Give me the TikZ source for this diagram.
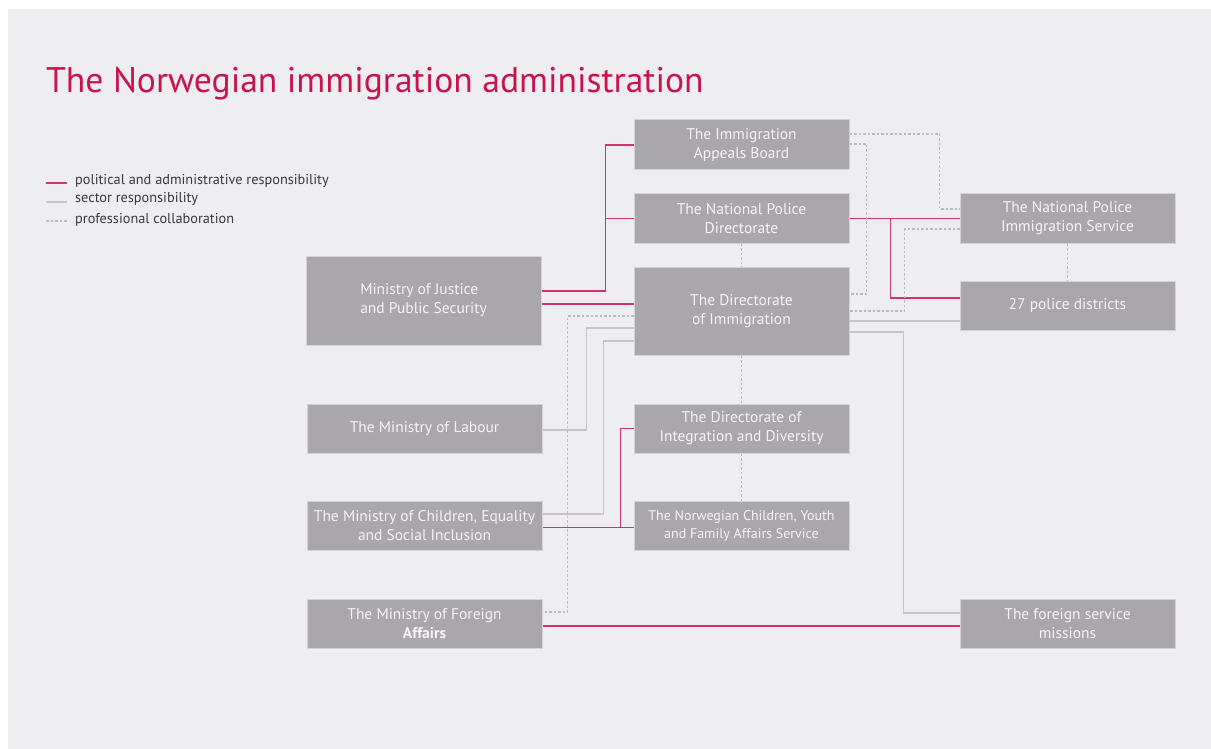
\documentclass[tikz,border=0pt]{standalone}
\usepackage{fontspec}
\setmainfont{PT Sans}
\usetikzlibrary{calc}

\definecolor{panelbg}{HTML}{EEEDF0}
\definecolor{boxfill}{HTML}{A9A6AC}
\definecolor{boxline}{HTML}{D3D2D6}
\definecolor{boxtext}{HTML}{F6F4F8}
\definecolor{crimson}{HTML}{C8134F}
\definecolor{politline}{HTML}{D0346A}
\definecolor{sectorline}{HTML}{C6C5C9}
\definecolor{collabline}{HTML}{BBBABE}
\definecolor{legendtext}{HTML}{3A393C}

\tikzset{
  orgbox/.style={draw=boxline, fill=boxfill, text=boxtext, line width=1pt,
    minimum width=215pt, minimum height=49pt, inner sep=0pt, align=center,
    font=\fontsize{15.5}{19}\selectfont},
  wide/.style={minimum width=235pt},
  polit/.style={draw=politline, line width=1.2pt},
  sector/.style={draw=sectorline, line width=1.3pt},
  collab/.style={draw=collabline, line width=1.1pt, dash pattern=on 2.5pt off 2pt},
  legend/.style={anchor=base west, text=legendtext, inner sep=0pt,
    font=\fontsize{14.3}{16}\selectfont}
}

\begin{document}
\begin{tikzpicture}[x=1pt, y=-1pt]
    \useasboundingbox (0,0) rectangle (1211,749);
    \fill[panelbg] (8,9) rectangle (1211,749);

    \node[anchor=base west, text=crimson, inner sep=0pt, font=\fontsize{35.6}{42}\selectfont]
        (title) at (46,93) {The Norwegian immigration administration};

    \draw[polit] (46,183) -- (67,183);
    \draw[sector] (46,202) -- (67,202);
    \draw[collab] (46,221) -- (67,221);
    \node[legend] (leg1) at (75,185) {political and administrative responsibility};
    \node[legend] (leg2) at (75,203) {sector responsibility};
    \node[legend] (leg3) at (75,223) {professional collaboration};

    \node[orgbox, minimum height=50pt] (iab) at (741.5,145) {The Immigration\\Appeals Board};
    \node[orgbox] (npd) at (741.5,218.5) {The National Police\\Directorate};
    \node[orgbox, minimum height=88pt] (udi) at (741.5,311) {The Directorate\\of Immigration};
    \node[orgbox] (imdi) at (741.5,428.5) {The Directorate of\\Integration and Diversity};
    \node[orgbox, font=\fontsize{14}{18}\selectfont] (bufetat) at (741.5,525.5)
        {The Norwegian Children, Youth\\and Family Affairs Service};
    \node[orgbox] (npis) at (1067.5,218.5) {The National Police\\Immigration Service};
    \node[orgbox] (pd) at (1067.5,305.5) {27 police districts};
    \node[orgbox] (fsm) at (1067.5,623.5) {The foreign service\\missions};
    \node[orgbox, wide, minimum height=89pt, align=left] (jd) at (423.5,300.5)
        {Ministry of Justice\\and Public Security};
    \node[orgbox, wide] (lab) at (424.5,428.5) {The Ministry of Labour};
    \node[orgbox, wide] (bld) at (424.5,525.5) {The Ministry of Children, Equality\\and Social Inclusion};
    \node[orgbox, wide] (ud) at (424.5,623.5) {The Ministry of Foreign\\\textbf{Affairs}};

    \draw[polit] ($(jd.east)+(0,-9.5)$) -| ($(iab.west)+(-28,0)$) -- (iab.west);
    \draw[polit] ($(npd.west)+(-28,0)$) -- (npd.west);
    \draw[polit] ($(jd.east)+(0,3.5)$) -- ($(udi.west)+(0,-7)$);
    \draw[polit] (npd.east) -- (npis.west);
    \draw[polit] ($(npd.east)+(41,0)$) |- ($(pd.west)+(0,-7.5)$);
    \draw[polit] ($(bld.east)+(0,2)$) -- ($(bufetat.west)+(0,2)$);
    \draw[polit] ($(bufetat.west)+(-13,2)$) |- (imdi.west);
    \draw[polit] ($(ud.east)+(0,2.5)$) -- ($(fsm.west)+(0,2.5)$);

    \draw[sector] ($(lab.east)+(0,1.5)$) -| ($(udi.west)+(-47,17)$) -- ($(udi.west)+(0,17)$);
    \draw[sector] ($(bld.east)+(0,-11.5)$) -| ($(udi.west)+(-30,30)$) -- ($(udi.west)+(0,30)$);
    \draw[sector] ($(udi.east)+(0,10)$) -- ($(pd.west)+(0,15.5)$);
    \draw[sector] ($(udi.east)+(0,21)$) -| ($(fsm.west)+(-56,-10.5)$) -- ($(fsm.west)+(0,-10.5)$);

    \draw[collab] ($(iab.east)+(0,-11)$) -| ($(npis.west)+(-20,-9.5)$) -- ($(npis.west)+(0,-9.5)$);
    \draw[collab] ($(iab.east)+(0,-1)$) -| ($(udi.east)+(17,-17)$) -- ($(udi.east)+(0,-17)$);
    \draw[collab] ($(npis.west)+(0,10.5)$) -| ($(udi.east)+(55,0)$) -- (udi.east);
    \draw[collab] (npd.south) -- (udi.north);
    \draw[collab] (npis.south) -- (pd.north);
    \draw[collab] (udi.south) -- (imdi.north);
    \draw[collab] (imdi.south) -- (bufetat.north);
    \draw[collab] ($(udi.west)+(0,5)$) -| ($(ud.east)+(25,-11.5)$) -- ($(ud.east)+(0,-11.5)$);
\end{tikzpicture}
\end{document}
